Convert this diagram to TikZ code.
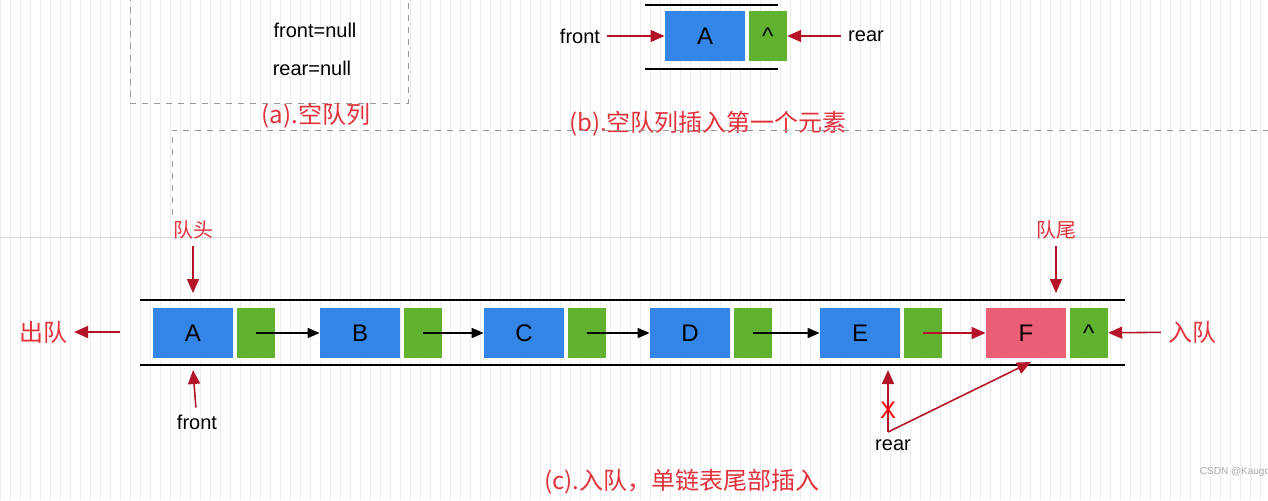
\documentclass[tikz,border=0pt]{standalone}
\usepackage{fontspec}
\setmainfont{Liberation Sans}
\newfontfamily\cjk{Noto Sans CJK SC}
\usetikzlibrary{arrows.meta,positioning}
\definecolor{qblue}{RGB}{52,134,230}
\definecolor{qgreen}{RGB}{96,178,48}
\definecolor{qpink}{RGB}{234,94,118}
\definecolor{qred}{RGB}{180,20,40}
\definecolor{capred}{RGB}{225,50,60}
\tikzset{
  datbox/.style={draw=none, fill=qblue, minimum width=40pt, minimum height=25pt, inner sep=0pt, font=\large},
  ptrbox/.style={draw=none, fill=qgreen, minimum width=19pt, minimum height=25pt, inner sep=0pt, font=\large},
  redarr/.style={-{Triangle[length=7pt,width=6pt]}, draw=qred, line width=0.8pt},
  blkarr/.style={-{Triangle[length=6pt,width=5pt]}, draw=black, line width=0.8pt},
  captxt/.style={text=capred, font=\cjk\large},
  zh/.style={text=capred, font=\cjk},
}
\begin{document}
\begin{tikzpicture}[x=0.5pt, y=-0.5pt]
    \useasboundingbox (0,0) rectangle (1268,500);
    \fill[white] (0,0) rectangle (1268,500);
    \draw[black!8, step=10] (0,0) grid (1268,500);
    \draw[black!15] (0,237) -- (1268,237);
    % (a)
    \draw[black!40, dashed] (130,-5) -- (130,103) -- (408,103) -- (408,-5);
    \node (fnull) at (315,30) {front=null};
    \node (rnull) at (312,68) {rear=null};
    \node[captxt] (capa) at (316,116) {(a).空队列};
    % (b)
    \draw[line width=1pt] (645,5) -- (778,5) (645,69) -- (778,69);
    \node[datbox] (bA) at (705,36) {A};
    \node[ptrbox] (bp) [right=1.5pt of bA] {\textasciicircum};
    \node (bfront) at (580,36) {front};
    \node (brear) at (866,36) {rear};
    \draw[redarr] (bfront) -- (bA);
    \draw[redarr] (brear) -- (bp);
    \node[captxt] (capb) at (708,124) {(b).空队列插入第一个元素};
    % (c)
    \draw[black!40, dashed] (172,215) -- (172,130) -- (1268,130);
    \draw[line width=1pt] (140,300) -- (1125,300) (140,365) -- (1125,365);
    \node[datbox] (A) at (193,333) {A};
    \node[ptrbox] (pA) [right=1.5pt of A] {};
    \node[datbox] (B) at (360,333) {B};
    \node[ptrbox] (pB) [right=1.5pt of B] {};
    \node[datbox] (C) at (524,333) {C};
    \node[ptrbox] (pC) [right=1.5pt of C] {};
    \node[datbox] (D) at (690,333) {D};
    \node[ptrbox] (pD) [right=1.5pt of D] {};
    \node[datbox] (E) at (860,333) {E};
    \node[ptrbox] (pE) [right=1.5pt of E] {};
    \node[datbox, fill=qpink] (F) at (1026,333) {F};
    \node[ptrbox] (pF) [right=1.5pt of F] {\textasciicircum};
    \draw[blkarr] (pA.center) -- (B);
    \draw[blkarr] (pB.center) -- (C);
    \draw[blkarr] (pC.center) -- (D);
    \draw[blkarr] (pD.center) -- (E);
    \draw[redarr] (pE.center) -- (F);
    \node[zh] (head) at (193,230) {队头};
    \node[zh] (tail) at (1056,230) {队尾};
    \draw[redarr] (head) -- (193,293);
    \draw[redarr] (tail) -- (1056,293);
    \node[zh, font=\cjk\large] (deq) at (43,332) {出队};
    \node[zh, font=\cjk\large] (enq) at (1192,332) {入队};
    \coordinate (deqs) at (120,332);
    \draw[redarr] (deqs) -- (deq);
    \draw[redarr] (enq) -- (pF);
    \node (cfront) at (197,422) {front};
    \draw[redarr] (cfront) -- (193,370);
    \node (crear) at (893,445) {rear};
    \coordinate (rtip) at (888,432);
    \draw[redarr] (rtip) -- (888,370);
    \node[text=red, font=\large] (xmark) at (888,410) {X};
    \draw[redarr] (rtip) -- (1031,362);
    \node[captxt] (capc) at (682,482) {(c).入队，单链表尾部插入};
    \node[text=black!35, font=\tiny] (mark) at (1235,472) {CSDN @Kaugo};
\end{tikzpicture}
\end{document}
